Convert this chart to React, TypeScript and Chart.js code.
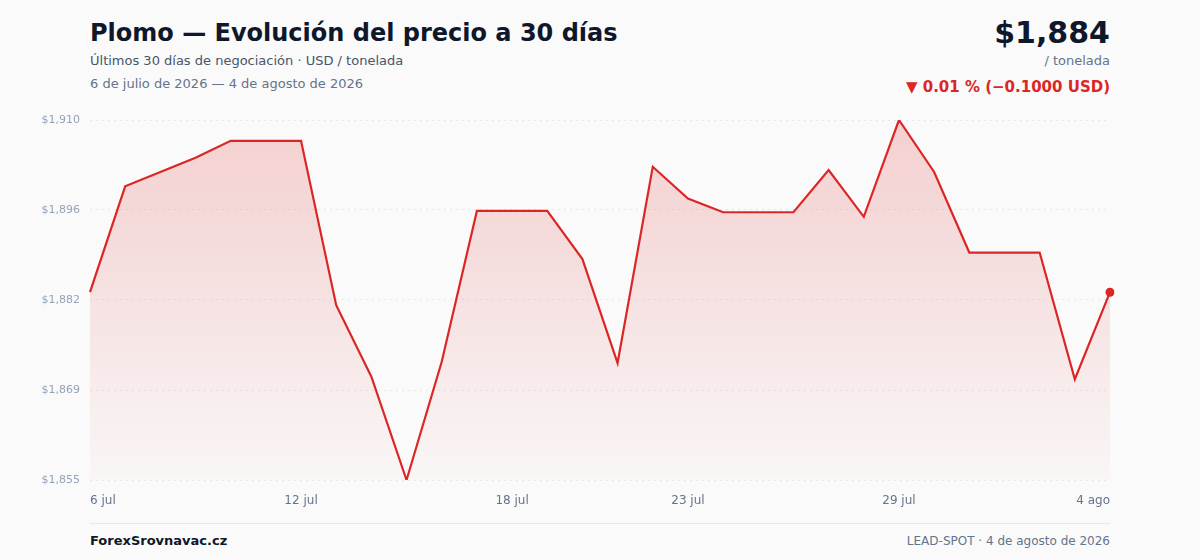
import React, { useEffect, useRef } from "react";
import { Chart, registerables } from "chart.js";

Chart.register(...registerables);

const LABELS = [
  "6 jul", "7 jul", "8 jul", "9 jul", "10 jul", "11 jul", "12 jul", "13 jul", "14 jul", "15 jul",
  "16 jul", "17 jul", "18 jul", "19 jul", "20 jul", "21 jul", "22 jul", "23 jul", "24 jul", "25 jul",
  "26 jul", "27 jul", "28 jul", "29 jul", "30 jul", "31 jul", "1 ago", "2 ago", "3 ago", "4 ago",
];

const PRICES = [
  1883.6, 1899.9, 1902.1, 1904.3, 1906.9, 1906.9, 1906.9, 1881.6, 1870.6, 1854.7,
  1872.9, 1896.1, 1896.1, 1896.1, 1888.7, 1872.7, 1902.9, 1898.0, 1895.9, 1895.9,
  1895.9, 1902.4, 1895.2, 1910.1, 1902.1, 1889.7, 1889.7, 1889.7, 1870.2, 1883.6,
];

const SHOWN_TICKS = [0, 6, 12, 17, 23, 29];
const Y_TICK_COUNT = 5;

const FONT = "'DejaVu Sans', sans-serif";
const RED = "#dc2626";

export default function App() {
  const canvasRef = useRef<HTMLCanvasElement | null>(null);

  useEffect(() => {
    if (!canvasRef.current) return;
    const yMin = Math.min(...PRICES);
    const yMax = Math.max(...PRICES);
    Chart.defaults.font.family = FONT;
    const chart = new Chart(canvasRef.current, {
      type: "line",
      data: {
        labels: LABELS,
        datasets: [
          {
            data: PRICES,
            borderColor: RED,
            borderWidth: 2.2,
            tension: 0,
            fill: "start",
            backgroundColor: (ctx: any) => {
              const area = ctx.chart.chartArea;
              if (!area) return "rgba(220,38,38,0.1)";
              const g = ctx.chart.ctx.createLinearGradient(0, area.top, 0, area.bottom);
              g.addColorStop(0, "rgba(220,38,38,0.2)");
              g.addColorStop(1, "rgba(220,38,38,0.02)");
              return g;
            },
            pointRadius: PRICES.map((_, i) => (i === PRICES.length - 1 ? 4.5 : 0)),
            pointHoverRadius: 0,
            pointBackgroundColor: RED,
            pointBorderWidth: 0,
          },
        ],
      },
      options: {
        animation: false,
        responsive: true,
        maintainAspectRatio: false,
        layout: { padding: { top: 20, right: 90, left: 0, bottom: 0 } },
        plugins: { legend: { display: false }, tooltip: { enabled: false } },
        scales: {
          x: {
            grid: { display: false, drawTicks: false },
            border: { display: false },
            afterFit: (s: any) => {
              s.height = 40;
            },
            ticks: {
              autoSkip: false,
              maxRotation: 0,
              align: "inner",
              padding: 14,
              color: "#64748b",
              font: { size: 12, family: FONT },
              callback: (_v: any, i: number) => (SHOWN_TICKS.includes(i) ? LABELS[i] : ""),
            },
          },
          y: {
            min: yMin,
            max: yMax,
            afterFit: (s: any) => {
              s.width = 90;
            },
            afterBuildTicks: (s: any) => {
              s.ticks = Array.from({ length: Y_TICK_COUNT }, (_, i) => ({
                value: yMin + (i * (yMax - yMin)) / (Y_TICK_COUNT - 1),
              }));
            },
            grid: { color: "#e5e7eb", lineWidth: 1, drawTicks: false },
            border: { display: false, dash: [2, 4] },
            ticks: {
              padding: 10,
              color: "#94a3b8",
              font: { size: 11, family: FONT },
              callback: (v: any) => "$" + Math.round(Number(v)).toLocaleString("en-US"),
            },
          },
        },
      },
    });
    return () => chart.destroy();
  }, []);

  return (
    <div
      style={{
        position: "fixed",
        left: 0,
        top: 0,
        width: 1200,
        height: 560,
        background: "#fafafa",
        fontFamily: FONT,
        overflow: "hidden",
      }}
    >
      <div style={{ position: "absolute", left: 90, top: 19, fontSize: 24, fontWeight: 700, color: "#0f172a", whiteSpace: "nowrap" }}>
        Plomo — Evolución del precio a 30 días
      </div>
      <div style={{ position: "absolute", left: 90, top: 53, fontSize: 13, color: "#475569", whiteSpace: "nowrap" }}>
        Últimos 30 días de negociación · USD / tonelada
      </div>
      <div style={{ position: "absolute", left: 90, top: 76, fontSize: 13, color: "#64748b", whiteSpace: "nowrap" }}>
        6 de julio de 2026 — 4 de agosto de 2026
      </div>
      <div style={{ position: "absolute", right: 90, top: 15, fontSize: 30, fontWeight: 700, color: "#0f172a", whiteSpace: "nowrap" }}>
        $1,884
      </div>
      <div style={{ position: "absolute", right: 90, top: 53, fontSize: 13, color: "#64748b", whiteSpace: "nowrap" }}>
        / tonelada
      </div>
      <div style={{ position: "absolute", right: 90, top: 78, fontSize: 15, fontWeight: 700, color: RED, whiteSpace: "nowrap" }}>
        ▼ 0.01 % (−0.1000 USD)
      </div>
      <div style={{ position: "absolute", left: 0, top: 100, width: 1200, height: 420 }}>
        <canvas ref={canvasRef} />
      </div>
      <div style={{ position: "absolute", left: 90, top: 523, width: 1020, height: 1, background: "#e5e7eb" }} />
      <div style={{ position: "absolute", left: 90, top: 533, fontSize: 13, fontWeight: 700, color: "#0f172a", whiteSpace: "nowrap" }}>
        ForexSrovnavac.cz
      </div>
      <div style={{ position: "absolute", right: 90, top: 534, fontSize: 12, color: "#64748b", whiteSpace: "nowrap" }}>
        LEAD-SPOT · 4 de agosto de 2026
      </div>
    </div>
  );
}
